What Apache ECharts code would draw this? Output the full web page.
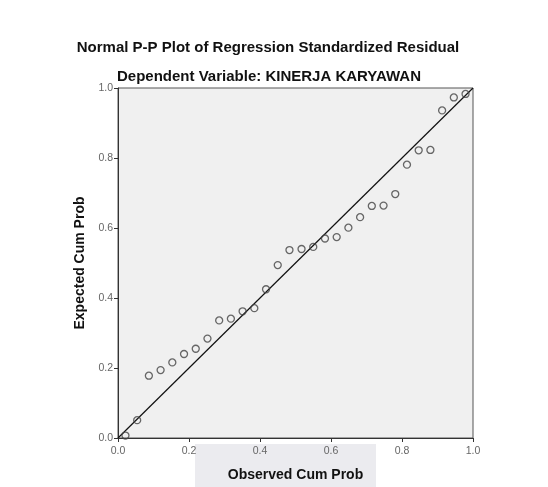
<!DOCTYPE html>
<html>
<head>
<meta charset="utf-8">
<script src="https://cdn.jsdelivr.net/npm/echarts@6/dist/echarts.min.js"></script>
<style>html,body{margin:0;padding:0;background:#fff;}#c{width:548px;height:487px;}</style>
</head>
<body>
<div id="c"></div>
<script>
var titleText = 'Normal P-P Plot of Regression Standardized Residual';
var subtitleText = 'Dependent Variable: KINERJA KARYAWAN';
var xAxisName = 'Observed Cum Prob';
var yAxisName = 'Expected Cum Prob';
var observedCumProb = [0.021, 0.054, 0.087, 0.120, 0.153, 0.186, 0.219, 0.252, 0.285, 0.318,
  0.351, 0.384, 0.417, 0.450, 0.483, 0.517, 0.550, 0.583, 0.616, 0.649,
  0.682, 0.715, 0.748, 0.781, 0.814, 0.847, 0.880, 0.913, 0.946, 0.979];
var expectedCumProb = [0.007, 0.051, 0.178, 0.194, 0.216, 0.240, 0.255, 0.284, 0.336, 0.341,
  0.362, 0.371, 0.425, 0.494, 0.537, 0.540, 0.546, 0.570, 0.574, 0.601,
  0.631, 0.663, 0.664, 0.697, 0.781, 0.822, 0.823, 0.936, 0.973, 0.983];
var referenceLine = [[0, 0], [1, 1]];

var points = observedCumProb.map(function (x, i) { return [x, expectedCumProb[i]]; });

var FONT = 'Liberation Sans, Arial, sans-serif';
var chart = echarts.init(document.getElementById('c'));
chart.setOption({
  animation: false,
  backgroundColor: '#ffffff',
  graphic: [{
    type: 'rect', z: -10, silent: true,
    shape: { x: 195, y: 444, width: 181, height: 43 },
    style: { fill: '#ebebef' }
  }, {
    type: 'text', x: 268, y: 48, silent: true,
    style: { text: titleText, fontFamily: FONT, fontSize: 15, fontWeight: 'bold', fill: '#111',
      textAlign: 'center', textVerticalAlign: 'middle' }
  }, {
    type: 'text', x: 269, y: 77, silent: true,
    style: { text: subtitleText, fontFamily: FONT, fontSize: 15, fontWeight: 'bold', fill: '#111',
      textAlign: 'center', textVerticalAlign: 'middle' }
  }],
  grid: {
    left: 118, right: 75, top: 88, bottom: 45,
    show: true, backgroundColor: '#f0f0f0', borderColor: '#555', borderWidth: 1
  },
  xAxis: {
    type: 'value', min: 0, max: 1, interval: 0.2,
    name: xAxisName, nameLocation: 'middle', nameGap: 30,
    nameTextStyle: { fontFamily: FONT, fontSize: 14, fontWeight: 'bold', color: '#111' },
    axisLine: { show: true, lineStyle: { color: '#333', width: 1 } },
    axisTick: { show: true, length: 4, lineStyle: { color: '#333' } },
    axisLabel: { fontFamily: FONT, fontSize: 10.5, color: '#666', margin: 8,
      formatter: function (v) { return v.toFixed(1); } },
    splitLine: { show: false }
  },
  yAxis: {
    type: 'value', min: 0, max: 1, interval: 0.2,
    name: yAxisName, nameLocation: 'middle', nameGap: 29, nameRotate: 90,
    nameTextStyle: { fontFamily: FONT, fontSize: 14, fontWeight: 'bold', color: '#111' },
    axisLine: { show: true, lineStyle: { color: '#333', width: 1 } },
    axisTick: { show: true, length: 4, lineStyle: { color: '#333' } },
    axisLabel: { fontFamily: FONT, fontSize: 10.5, color: '#666', margin: 5,
      formatter: function (v) { return v.toFixed(1); } },
    splitLine: { show: false }
  },
  series: [{
    type: 'line', data: referenceLine, symbol: 'none', silent: true,
    lineStyle: { color: '#111', width: 1.2 }, z: 2
  }, {
    type: 'scatter', data: points, symbol: 'circle', symbolSize: 7,
    itemStyle: { color: 'rgba(0,0,0,0)', borderColor: '#444', borderWidth: 1.3 }, z: 3
  }]
});
</script>
</body>
</html>
